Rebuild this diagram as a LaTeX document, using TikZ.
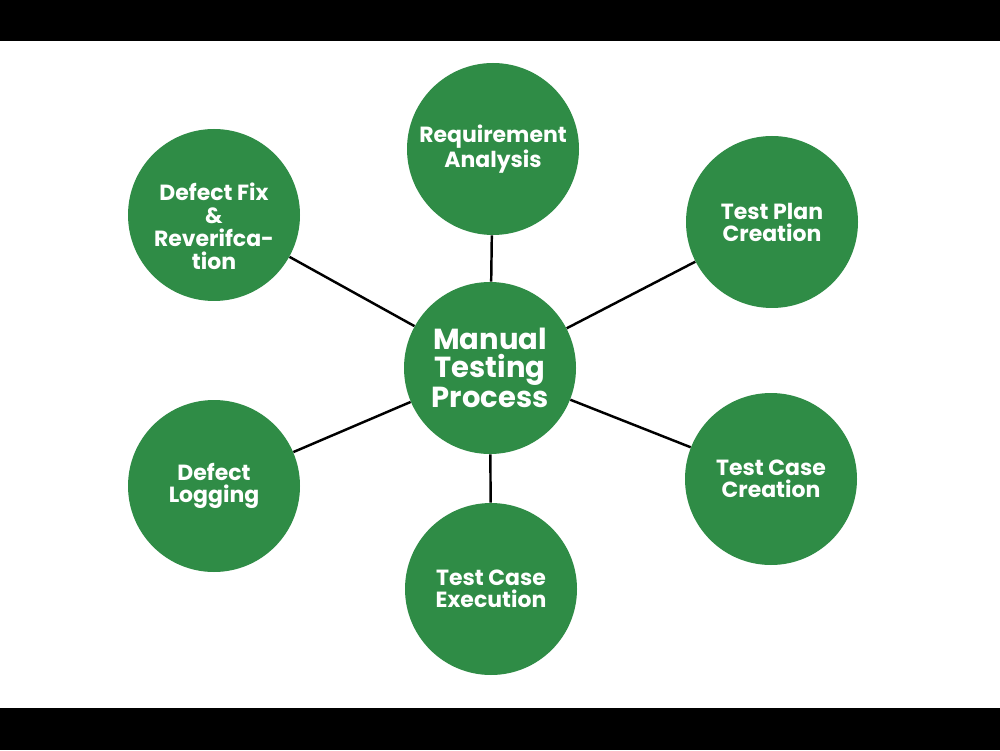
\documentclass[tikz,border=0pt]{standalone}
\usepackage{fontspec}
\setmainfont{Poppins}
\usepackage{xcolor}
\usetikzlibrary{positioning}

\definecolor{leaf}{RGB}{47,140,70}

\begin{document}
\begin{tikzpicture}[
    phase/.style={circle, fill=leaf, text=white, minimum size=3.44cm, inner sep=0pt,
        align=center, font=\bfseries\fontsize{12.5}{12.5}\selectfont},
    hub/.style={phase, font=\bfseries\fontsize{16.5}{16}\selectfont}
]
                            \fill[white] (0, 0) rectangle (20, 15);
                            \fill[black] (0, 14.18) rectangle (20, 15);
                            \fill[black] (0, 0) rectangle (20, 0.84);
                            \useasboundingbox (0, 0) rectangle (20, 15);

                            \node[hub] (hub) at (9.8, 7.64) {Manual\\Testing\\Process};
                            \node[phase] (req) at (9.86, 12.02) {Requirement\\Analysis};
                            \node[phase] (plan) at (15.44, 10.56) {Test Plan\\Creation};
                            \node[phase] (create) at (15.42, 5.42) {Test Case\\Creation};
                            \node[phase] (exec) at (9.82, 3.22) {Test Case\\Execution};
                            \node[phase] (log) at (4.28, 5.28) {Defect\\Logging};
                            \node[phase, font=\bfseries\fontsize{12.5}{13}\selectfont] (fix) at (4.28, 10.7)
                                {\rule{0pt}{0.8cm}Defect Fix\\\&\\Reverifca-\\tion};

                            \draw[line width=1.4pt]
                            (hub) edge (req)
                            (hub) edge (plan)
                            (hub) edge (create)
                            (hub) edge (exec)
                            (hub) edge (log)
                            (hub) edge (fix);
                        \end{tikzpicture}
\end{document}
